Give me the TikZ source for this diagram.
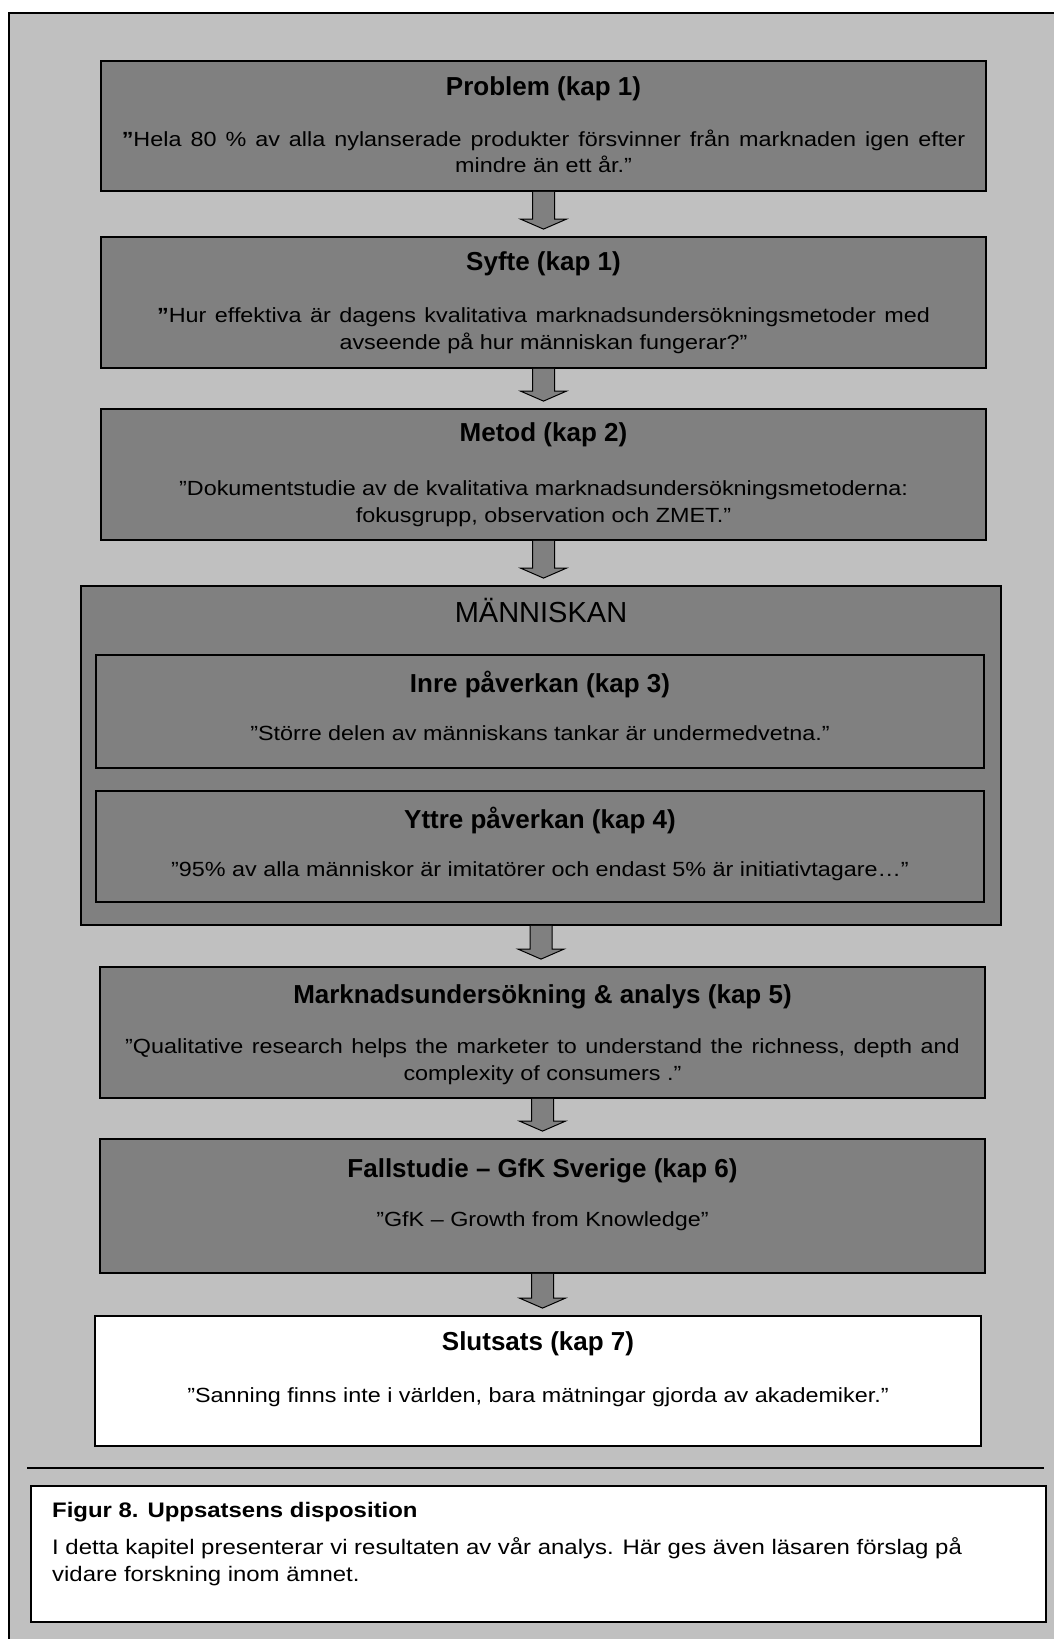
\documentclass[tikz,border=0pt]{standalone}
\usepackage{fontspec}
\setmainfont{Liberation Sans}
\newfontfamily\bodyfont{Liberation Sans}[FakeStretch=1.14]
\usetikzlibrary{calc}
\definecolor{bggray}{HTML}{C0C0C0}
\definecolor{boxgray}{HTML}{808080}
\tikzset{
  graybox/.style={draw=black, line width=1.8pt, fill=boxgray, inner sep=0pt},
  whitebox/.style={draw=black, line width=1.8pt, fill=white, inner sep=0pt},
  ttl/.style={font=\fontsize{26}{30}\selectfont\bfseries, anchor=base, inner sep=0pt},
  bdy/.style={font=\bodyfont\fontsize{20.5}{27}\selectfont, anchor=base, inner sep=0pt},
  capttl/.style={font=\bodyfont\fontsize{21}{27}\selectfont\bfseries, anchor=base west, inner sep=0pt},
  capbdy/.style={font=\bodyfont\fontsize{21}{27}\selectfont, anchor=base west, inner sep=0pt},
  blockarrow/.style={draw=black, line width=1pt, fill=boxgray, line join=miter}
}
\newcommand\blockarr[2]{%
  \path[blockarrow] let \p1=(#1.south), \p2=(#2.north) in
    (\x1-11pt,\y1) -- (\x1-11pt,\y2+17pt) -- (\x1-23pt,\y2+17pt) -- (\x1,\y2+7pt)
    -- (\x1+23pt,\y2+17pt) -- (\x1+11pt,\y2+17pt) -- (\x1+11pt,\y1);
}
\begin{document}
\begin{tikzpicture}[x=1pt,y=-1pt]
\useasboundingbox (0,0) rectangle (1054,1639);
\fill[white] (0,0) rectangle (1054,1639);
\draw[line width=2pt, fill=bggray] (9,13) rectangle (1075,1665);

% boxes
\node[graybox, minimum width=885pt, minimum height=130pt] (prob) at (543.5,126) {};
\node[graybox, minimum width=885pt, minimum height=131pt] (syf) at (543.5,302.5) {};
\node[graybox, minimum width=885pt, minimum height=131pt] (met) at (543.5,474.5) {};
\node[graybox, minimum width=920pt, minimum height=339pt] (man) at (541,755.5) {};
\node[graybox, minimum width=888pt, minimum height=113pt] (inre) at (540,711.5) {};
\node[graybox, minimum width=888pt, minimum height=111pt] (yttre) at (540,846.5) {};
\node[graybox, minimum width=885pt, minimum height=131pt] (mark) at (542.5,1032.5) {};
\node[graybox, minimum width=885pt, minimum height=134pt] (fall) at (542.5,1206) {};
\node[whitebox, minimum width=886pt, minimum height=130pt] (slut) at (538,1381) {};
\node[whitebox, minimum width=1015pt, minimum height=136pt] (capt) at (538.5,1554) {};

% arrows
\blockarr{prob}{syf}
\blockarr{syf}{met}
\blockarr{met}{man}
\blockarr{man}{mark}
\blockarr{mark}{fall}
\blockarr{fall}{slut}

% rule
\coordinate (rl) at (27,1468);
\coordinate (rr) at (1044,1468);
\draw[line width=2pt] (rl) -- (rr);

% texts
\node[ttl] (probT) at (543.5,95) {Problem (kap 1)};
\node[bdy] (probB1) at (543.5,146) {\spaceskip=9pt\relax{\bfseries ”}Hela 80 \% av alla nylanserade produkter försvinner från marknaden igen efter};
\node[bdy] (probB2) at (543.5,172) {mindre än ett år.”};

\node[ttl] (syfT) at (543.5,270) {Syfte (kap 1)};
\node[bdy] (syfB1) at (543.5,322) {\spaceskip=8.5pt\relax{\bfseries ”}Hur effektiva är dagens kvalitativa marknadsundersökningsmetoder med};
\node[bdy] (syfB2) at (543.5,349) {avseende på hur människan fungerar?”};

\node[ttl] (metT) at (543.5,441) {Metod (kap 2)};
\node[bdy] (metB1) at (543.5,495) {”Dokumentstudie av de kvalitativa marknadsundersökningsmetoderna:};
\node[bdy] (metB2) at (543.5,522) {fokusgrupp, observation och ZMET.”};

\node[font=\fontsize{29}{33}\selectfont, anchor=base, inner sep=0pt] (manT) at (541,622) {MÄNNISKAN};

\node[ttl] (inreT) at (540,692) {Inre påverkan (kap 3)};
\node[bdy] (inreB) at (540,740) {”Större delen av människans tankar är undermedvetna.”};

\node[ttl] (yttreT) at (540,828) {Yttre påverkan (kap 4)};
\node[bdy] (yttreB) at (540,876) {”95\% av alla människor är imitatörer och endast 5\% är initiativtagare…”};

\node[ttl] (markT) at (542.5,1003) {Marknadsundersökning \& analys (kap 5)};
\node[bdy] (markB1) at (542.5,1053) {\spaceskip=8.5pt\relax ”Qualitative research helps the marketer to understand the richness, depth and};
\node[bdy] (markB2) at (542.5,1080) {complexity of consumers .”};

\node[ttl] (fallT) at (542.5,1177) {Fallstudie – GfK Sverige (kap 6)};
\node[bdy] (fallB) at (542.5,1226) {”GfK – Growth from Knowledge”};

\node[ttl] (slutT) at (538,1350) {Slutsats (kap 7)};
\node[bdy] (slutB) at (538,1402) {”Sanning finns inte i världen, bara mätningar gjorda av akademiker.”};

\node[capttl] (captT) at (52,1517) {Figur 8. Uppsatsens disposition};
\node[capbdy] (captB1) at (52,1554) {I detta kapitel presenterar vi resultaten av vår analys. Här ges även läsaren förslag på};
\node[capbdy] (captB2) at (52,1581) {vidare forskning inom ämnet.};
\end{tikzpicture}
\end{document}
